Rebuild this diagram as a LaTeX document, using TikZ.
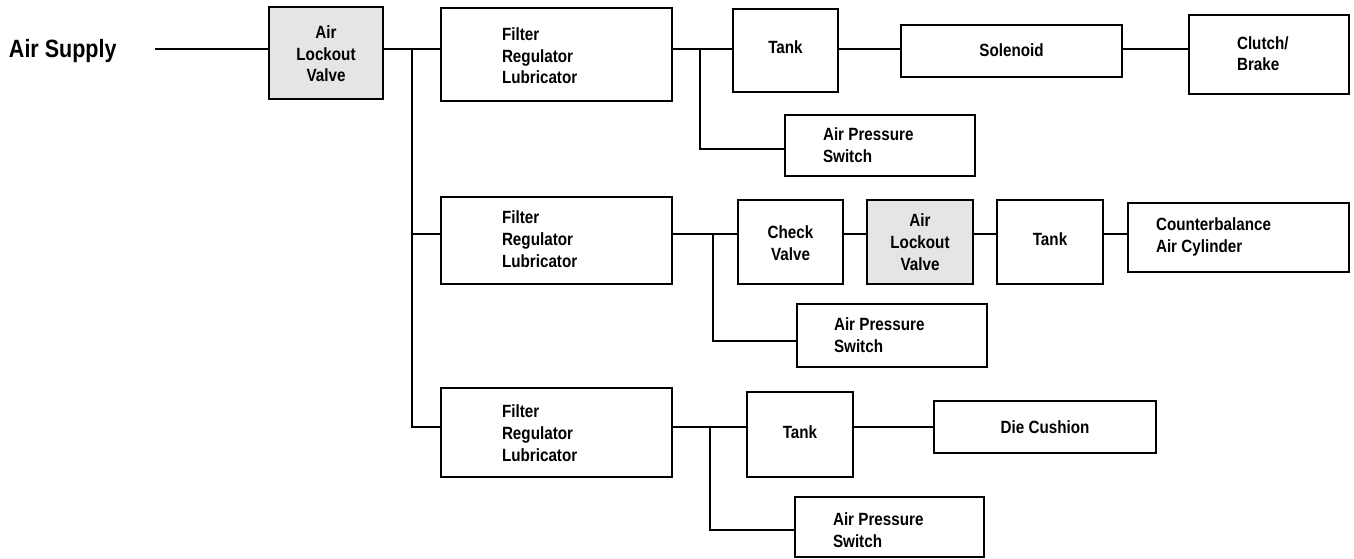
\documentclass[tikz,border=0pt]{standalone}
\usepackage{fontspec}
\setmainfont{Liberation Sans}[FakeStretch=0.86]
\begin{document}
\begin{tikzpicture}[x=1pt,y=-1pt,
  box/.style={draw=black, line width=2.6pt, inner sep=0pt, outer sep=0pt, fill=white},
  gbox/.style={box, fill=black!10},
  wire/.style={draw=black, line width=2.2pt},
  lbl/.style={inner sep=0pt, outer sep=0pt, font=\bfseries\fontsize{17.7}{21.8}\selectfont},
  lbll/.style={lbl, anchor=base west, align=left},
  lblc/.style={lbl, anchor=base, align=center}]
\useasboundingbox (0,0) rectangle (1354,559);

% row levels
\coordinate (r1) at (0,49);
\coordinate (r2) at (0,234);
\coordinate (r3) at (0,427);

% boxes
\node[gbox, minimum width=114pt, minimum height=92pt] (lock1) at (326,53) {};
\node[box, minimum width=231pt, minimum height=93pt] (frl1) at (556.5,54.5) {};
\node[box, minimum width=105pt, minimum height=83pt] (tank1) at (785.5,50.5) {};
\node[box, minimum width=190pt, minimum height=61pt] (aps1) at (880,145.5) {};
\node[box, minimum width=221pt, minimum height=52pt] (sol) at (1011.5,51) {};
\node[box, minimum width=160pt, minimum height=79pt] (clutch) at (1269,54.5) {};

\node[box, minimum width=231pt, minimum height=87pt] (frl2) at (556.5,240.5) {};
\node[box, minimum width=105pt, minimum height=84pt] (check) at (790.5,242) {};
\node[gbox, minimum width=106pt, minimum height=84pt] (lock2) at (920,242) {};
\node[box, minimum width=106pt, minimum height=84pt] (tank2) at (1050,242) {};
\node[box, minimum width=221pt, minimum height=69pt] (cb) at (1238.5,237.5) {};
\node[box, minimum width=190pt, minimum height=63pt] (aps2) at (892,335.5) {};

\node[box, minimum width=231pt, minimum height=89pt] (frl3) at (556.5,432.5) {};
\node[box, minimum width=106pt, minimum height=85pt] (tank3) at (800,434.5) {};
\node[box, minimum width=222pt, minimum height=52pt] (dc) at (1045,427) {};
\node[box, minimum width=189pt, minimum height=60pt] (aps3) at (889.5,527) {};

% labels (base anchor = baseline of the last line)
\node[lbl, anchor=base west, font=\bfseries\fontsize{25}{30}\selectfont] (supplytxt) at (9,58) {Air Supply};
\node[lblc] (tlock1) at (326,82) {Air\\Lockout\\Valve};
\node[lbll] (tfrl1) at (502,84) {Filter\\Regulator\\Lubricator};
\node[lblc] (ttank1) at (785.5,54) {Tank};
\node[lbll] (taps1) at (823,162) {Air Pressure\\Switch};
\node[lblc] (tsol) at (1011.5,57) {Solenoid};
\node[lbll] (tclutch) at (1237,71) {Clutch/\\Brake};

\node[lbll] (tfrl2) at (502,267.5) {Filter\\Regulator\\Lubricator};
\node[lblc] (tcheck) at (790.5,260) {Check\\Valve};
\node[lblc] (tlock2) at (920,270) {Air\\Lockout\\Valve};
\node[lblc] (ttank2) at (1050,245.5) {Tank};
\node[lbll] (tcb) at (1156,252) {Counterbalance\\Air Cylinder};
\node[lbll] (taps2) at (834,352) {Air Pressure\\Switch};

\node[lbll] (tfrl3) at (502,461) {Filter\\Regulator\\Lubricator};
\node[lblc] (ttank3) at (800,438) {Tank};
\node[lblc] (tdc) at (1045,433) {Die Cushion};
\node[lbll] (taps3) at (833,547) {Air Pressure\\Switch};

% junction points
\coordinate (supply) at (155,49);
\coordinate (bus) at (412,49);
\coordinate (j1) at (700,49);
\coordinate (j2) at (713,234);
\coordinate (j3) at (710,427);

% connectors
\draw[wire] (supply) -- (lock1.west |- r1);
\draw[wire] (lock1.east |- r1) -- (frl1.west |- r1);
\draw[wire] (bus) -- (bus |- r3) -- (frl3.west |- r3);
\draw[wire] (bus |- r2) -- (frl2.west |- r2);

\draw[wire] (frl1.east |- r1) -- (tank1.west |- r1);
\draw[wire] (j1) |- (aps1.west |- 0,149);
\draw[wire] (tank1.east |- r1) -- (sol.west |- r1);
\draw[wire] (sol.east |- r1) -- (clutch.west |- r1);

\draw[wire] (frl2.east |- r2) -- (check.west |- r2);
\draw[wire] (j2) |- (aps2.west |- 0,341);
\draw[wire] (check.east |- r2) -- (lock2.west |- r2);
\draw[wire] (lock2.east |- r2) -- (tank2.west |- r2);
\draw[wire] (tank2.east |- r2) -- (cb.west |- r2);

\draw[wire] (frl3.east |- r3) -- (tank3.west |- r3);
\draw[wire] (j3) |- (aps3.west |- 0,530);
\draw[wire] (tank3.east |- r3) -- (dc.west |- r3);
\end{tikzpicture}
\end{document}
